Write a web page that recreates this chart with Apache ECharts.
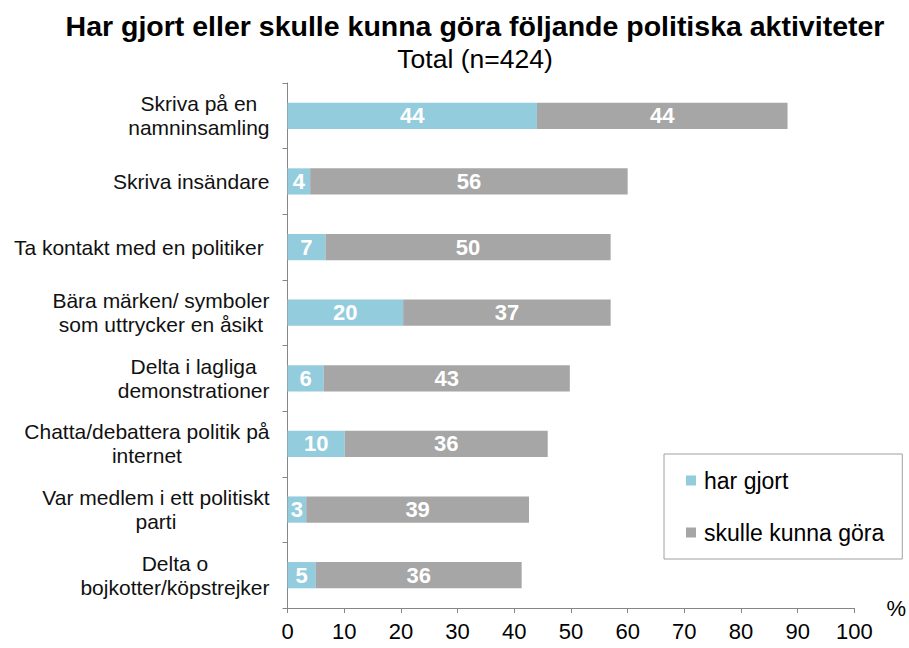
<!DOCTYPE html>
<html>
<head>
<meta charset="utf-8">
<script src="https://cdn.jsdelivr.net/npm/echarts@6/dist/echarts.min.js"></script>
<style>
  html, body { margin: 0; padding: 0; background: #fff; }
  #chart { width: 909px; height: 648px; }
</style>
</head>
<body>
<div id="chart"></div>
<script>
// kategorier (uppifrån och ned)
var categories = [
  'Skriva på en\nnamninsamling',
  'Skriva insändare',
  'Ta kontakt med en politiker ',
  'Bära märken/ symboler\nsom uttrycker en åsikt',
  'Delta i lagliga\ndemonstrationer',
  'Chatta/debattera politik på\ninternet',
  'Var medlem i ett politiskt\nparti',
  'Delta o\nbojkotter/köpstrejker'
];
// procent
var harGjort = [44.0, 4.0, 6.7, 20.4, 6.4, 10.1, 3.3, 5.0];
var skulleKunna = [44.2, 56.0, 50.3, 36.6, 43.4, 35.8, 39.3, 36.3];
var xTicks = [0, 10, 20, 30, 40, 50, 60, 70, 80, 90, 100];

var font = 'Liberation Sans, Arial, sans-serif';
var chart = echarts.init(document.getElementById('chart'), null, { renderer: 'svg' });

function barLabel() {
  return {
    show: true,
    position: 'inside',
    color: '#fff',
    fontWeight: 'bold',
    fontSize: 22,
    fontFamily: font,
    formatter: function (p) { return Math.round(p.value); }
  };
}

var option = {
  backgroundColor: '#fff',
  animation: false,
  title: [
    {
      text: 'Har gjort eller skulle kunna göra följande politiska aktiviteter',
      left: 470, top: 6, textAlign: 'center',
      textStyle: { fontFamily: font, fontSize: 28.5, fontWeight: 'bold', color: '#000' }
    },
    {
      text: 'Total (n=424)',
      left: 470, top: 40, textAlign: 'center',
      textStyle: { fontFamily: font, fontSize: 26.5, fontWeight: 'normal', color: '#000' }
    }
  ],
  legend: {
    data: ['har gjort', 'skulle kunna göra'],
    orient: 'vertical',
    left: 664, top: 454,
    padding: [15, 18, 15, 22],
    itemWidth: 10, itemHeight: 10,
    itemGap: 29,
    icon: 'rect',
    borderColor: '#a0a0a0', borderWidth: 1,
    textStyle: { fontFamily: font, fontSize: 23, color: '#000', padding: [0, 0, 0, 3] }
  },
  grid: { left: 287.5, right: 53.5, top: 83, bottom: 40, containLabel: false },
  xAxis: {
    type: 'value',
    min: xTicks[0], max: xTicks[xTicks.length - 1], interval: 10,
    name: '%',
    nameLocation: 'end',
    nameGap: 32,
    nameTextStyle: { fontFamily: font, fontSize: 22, color: '#000', verticalAlign: 'middle', padding: [4, 0, 0, 0] },
    axisLine: { show: true, lineStyle: { color: '#868686', width: 1 } },
    axisTick: { show: true, length: 5, lineStyle: { color: '#868686' } },
    splitLine: { show: false },
    axisLabel: { fontFamily: font, fontSize: 22, color: '#000', margin: 12 }
  },
  yAxis: {
    type: 'category',
    data: categories,
    inverse: true,
    axisLine: { show: true, lineStyle: { color: '#868686', width: 1 } },
    axisTick: { show: true, length: 5, lineStyle: { color: '#868686' } },
    axisLabel: {
      margin: 18,
      fontFamily: font, fontSize: 21, color: '#111',
      formatter: function (v) {
        return v.split('\n').map(function (s) { return '{c|' + s + '}'; }).join('\n');
      },
      rich: {
        c: { align: 'center', fontFamily: font, fontSize: 21, color: '#111', lineHeight: 24 }
      }
    }
  },
  series: [
    {
      name: 'har gjort',
      type: 'bar',
      stack: 'tot',
      data: harGjort,
      barWidth: '40%',
      itemStyle: { color: '#93cddd' },
      label: barLabel()
    },
    {
      name: 'skulle kunna göra',
      type: 'bar',
      stack: 'tot',
      data: skulleKunna,
      barWidth: '40%',
      itemStyle: { color: '#a6a6a6' },
      label: barLabel()
    }
  ]
};

chart.setOption(option);
</script>
</body>
</html>
